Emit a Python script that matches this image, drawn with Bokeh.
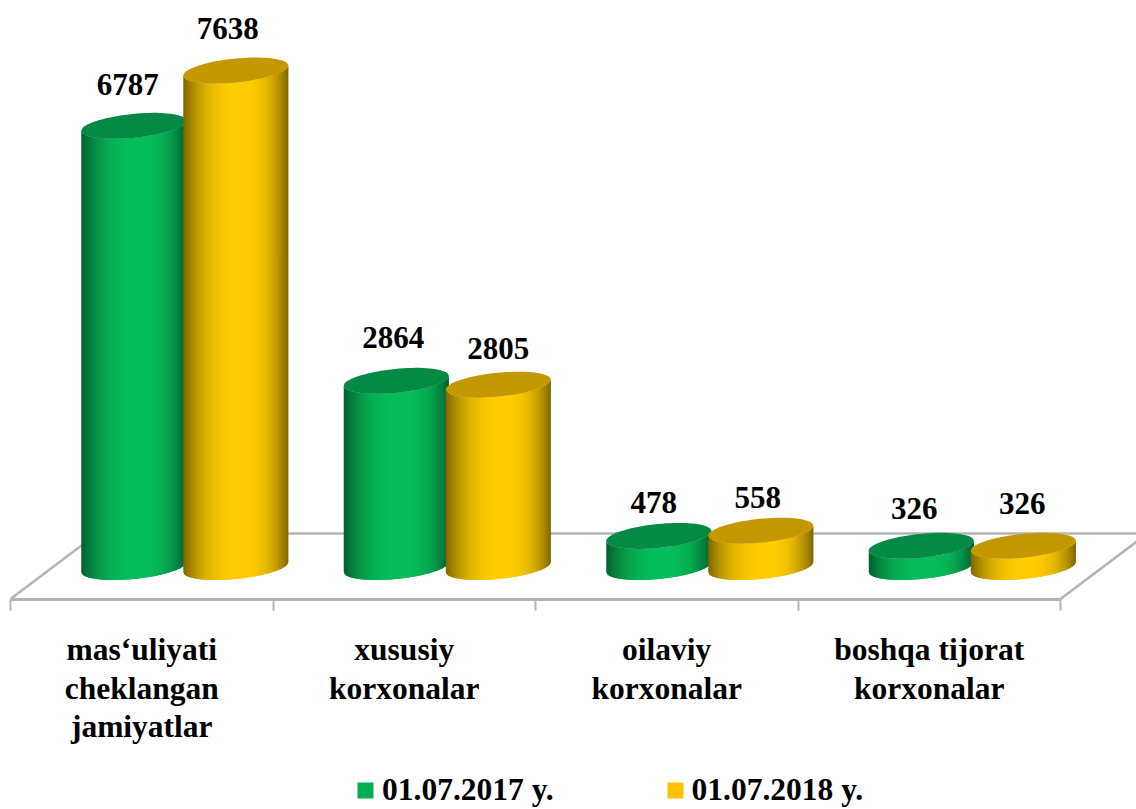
import numpy as np
from bokeh.plotting import figure
from bokeh.models import ColumnDataSource, LabelSet, FixedTicker, Legend, LegendItem, Range1d
from bokeh.embed import file_html
from bokeh.resources import INLINE

# ---- data ----
categories = [["mas‘uliyati", "cheklangan", "jamiyatlar"], ["xususiy", "korxonalar"], ["oilaviy", "korxonalar"], ["boshqa tijorat", "korxonalar"]]
series_names = ["01.07.2017 y.", "01.07.2018 y."]
values_2017 = [6787, 2864, 478, 326]
values_2018 = [7638, 2805, 558, 326]

# ---- layout ----
W, H = 1136, 809
PX_X = 262.5          # pixels per category
PX_Y = 0.065          # pixels per unit of value
ORIGIN_X = 10         # picture x of the axis start
ORIGIN_Y = 566.5      # picture y of the foot of the bars
FLOOR_PX = 32         # floor front edge, pixels below the foot of the bars
px_x = lambda n: n / PX_X
px_y = lambda n: n / PX_Y

floor = -px_y(FLOOR_PX)
p = figure(width=W, height=H, output_backend="svg", toolbar_location=None,
           x_range=Range1d(-ORIGIN_X / PX_X, (W - ORIGIN_X) / PX_X),
           y_range=Range1d(-(H - ORIGIN_Y) / PX_Y, ORIGIN_Y / PX_Y),
           min_border_left=0, min_border_right=0, min_border_top=0, min_border_bottom=0)
p.outline_line_color = None
p.grid.visible = False
p.yaxis.visible = False
p.background_fill_color = "white"
p.border_fill_color = "white"

AXIS_COLOR = "#b4b4b4"
n = len(categories)
ax = p.xaxis[0]
ax.fixed_location = floor
ax.bounds = (0, n)
ax.ticker = FixedTicker(ticks=list(range(n + 1)))
ax.axis_line_color = AXIS_COLOR
ax.axis_line_width = 3
ax.major_tick_line_color = AXIS_COLOR
ax.major_tick_line_width = 2
ax.major_tick_out = 11
ax.major_tick_in = 0
ax.minor_tick_line_color = None
ax.major_label_text_font_size = "0px"
ax.major_label_text_color = None

# ---- floor outline ----
depth_x, depth_y = px_x(87), px_y(65.5)
p.segment([0, n, depth_x], [floor, floor, floor + depth_y], [depth_x, n + depth_x, n + depth_x], [floor + depth_y] * 3,
          line_color=AXIS_COLOR, line_width=2.5)

# ---- cylinders ----
A, B, S = px_x(52.5), px_y(12), px_y(5)
OFFSETS = [px_x(-51) + 0.5 + px_x(43), px_x(51) + 0.5 + px_x(43)]
PALETTE = [((7, 190, 92), (4, 138, 69)), ((255, 205, 0), (196, 152, 0))]
STRIPS = 70


def shade(rgb, t):
    u = (t - 0.1) / (1.1 if t < 0.1 else 0.9)
    f = 1 - 0.5 * abs(u) ** 2.5
    return "#%02x%02x%02x" % tuple(int(c * f) for c in rgb)


def front(u):
    return -(B * np.sqrt(np.clip(1 - u * u, 0, 1)) - S * u)


xs, ys, colors = [], [], []
for i in range(n):
    for val, off, (side, top) in zip((values_2017[i], values_2018[i]), OFFSETS, PALETTE):
        cx = i + off
        edges = np.linspace(-1, 1, STRIPS + 1)
        for k in range(STRIPS):
            u0 = edges[k]
            u1 = edges[min(k + 2, STRIPS)]     # overlaps the next strip, which is painted over it
            um = np.linspace(u0, u1, 5)
            xs.append(list(cx + A * um) + list(cx + A * um[::-1]))
            ys.append(list(front(um)) + list(val + front(um[::-1])))
            colors.append(shade(side, (edges[k] + edges[k + 1]) / 2))
        th = np.linspace(0, 2 * np.pi, 80)
        xs.append(list(cx + A * np.cos(th)))
        ys.append(list(val + B * np.sin(th) + S * np.cos(th)))
        colors.append("#%02x%02x%02x" % top)

p.patches("xs", "ys", source=ColumnDataSource(dict(xs=xs, ys=ys, color=colors)),
          fill_color="color", line_color=None)

# ---- value labels ----
FONT = "Liberation Serif"
SIZE = "31.5px"
lab_dx = [-6, -8, -3, 0, -5, -3, -7, -1]
lab_dy = [41, 42, 43, 36, 33, 33, 37, 42]
lab_x, lab_y, lab_t = [], [], []
for i in range(n):
    for val, off in zip((values_2017[i], values_2018[i]), OFFSETS):
        lab_x.append(i + off)
        lab_y.append(val)
        lab_t.append(str(val))
p.add_layout(LabelSet(x="x", y="y", text="t", x_offset="dx", y_offset="dy",
                      source=ColumnDataSource(dict(x=lab_x, y=lab_y, t=lab_t, dx=lab_dx, dy=lab_dy)),
                      text_font=FONT, text_font_size="31px", text_font_style="bold", text_color="black",
                      text_align="center", text_baseline="middle"))

# ---- category labels, one entry per line ----
LINE_PX = 38.5
cat_x, cat_y, cat_t, cat_dy = [], [], [], []
for i, lines in enumerate(categories):
    for k, line in enumerate(lines):
        cat_x.append(i + 0.5)
        cat_y.append(floor)
        cat_t.append(line)
        cat_dy.append(-33 - k * LINE_PX)
p.add_layout(LabelSet(x="x", y="y", text="t", y_offset="dy",
                      source=ColumnDataSource(dict(x=cat_x, y=cat_y, t=cat_t, dy=cat_dy)),
                      text_font=FONT, text_font_size=SIZE, text_font_style="bold", text_color="black",
                      text_align="center", text_baseline="top"))

# ---- legend ----
no_data = [float("nan")]
r1 = p.quad(left=no_data, right=no_data, top=no_data, bottom=no_data, fill_color="#00B050", line_color=None)
r2 = p.quad(left=no_data, right=no_data, top=no_data, bottom=no_data, fill_color="#FFC000", line_color=None)
legend = Legend(items=[LegendItem(label=series_names[0], renderers=[r1]),
                       LegendItem(label=series_names[1], renderers=[r2])],
                orientation="horizontal", location=(355, 1), padding=0, margin=0,
                spacing=111, glyph_width=20, glyph_height=20, label_standoff=7,
                border_line_color=None, background_fill_alpha=0,
                label_text_font=FONT, label_text_font_size=SIZE, label_text_font_style="bold",
                label_text_color="black", label_height=23)
p.add_layout(legend)

open("out.html", "w").write(file_html(p, INLINE))
